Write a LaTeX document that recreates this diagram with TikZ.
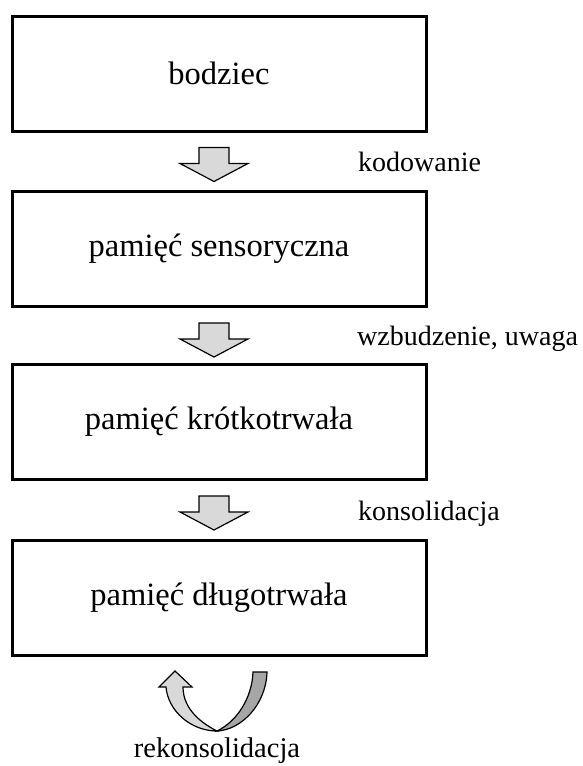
\documentclass[tikz,border=0pt]{standalone}
\usepackage{fontspec}
\setmainfont{Liberation Serif}
\usetikzlibrary{calc}
\definecolor{arrowlight}{HTML}{D9D9D9}
\definecolor{arrowdark}{HTML}{A6A6A6}
\tikzset{
  stagebox/.style={draw=black, line width=3pt, fill=white, minimum width=414pt, minimum height=115pt, inner sep=0pt, font=\fontsize{32.5}{38}\selectfont},
  steplabel/.style={anchor=base west, inner sep=0pt, font=\fontsize{28}{33}\selectfont},
  blockarrow/.style={draw=black, line width=1.2pt, fill=arrowlight, line join=miter},
  turnlight/.style={draw=black, line width=1.2pt, fill=arrowlight},
  turndark/.style={draw=black, line width=1.2pt, fill=arrowdark}
}
\begin{document}
\begin{tikzpicture}[x=1pt,y=-1pt]
\useasboundingbox (0,0) rectangle (582,766);
\node[stagebox] (b1) at (219,73.5) {bodziec};
\node[stagebox] (b2) at (219,249) {pamięć sensoryczna};
\node[stagebox] (b3) at (219,422) {pamięć krótkotrwała};
\node[stagebox] (b4) at (219,598) {pamięć długotrwała};
% block arrows between boxes
\foreach \a/\b in {b1/b2, b2/b3, b3/b4}{
  \coordinate (top) at ($(\a.south)+(-5,15)$);
  \draw[blockarrow] ($(top)+(-15,0)$) -- ($(top)+(15,0)$) -- ($(top)+(15,16)$) -- ($(top)+(34,16)$)
    -- ($(top)+(0,34)$) -- ($(top)+(-34,16)$) -- ($(top)+(-15,16)$) -- cycle;
}
\node[steplabel] (l1) at (358,171) {kodowanie};
\node[steplabel] (l2) at (357,345) {wzbudzenie, uwaga};
\node[steplabel] (l3) at (358,520) {konsolidacja};
% U-turn arrow
\coordinate (B) at (217,731);
\draw[turndark] (B) .. controls (241,730) and (266,705) .. (267,672) -- (253,672)
   .. controls (252,699) and (236,722) .. (B) -- cycle;
\draw[turnlight] (166,687) .. controls (168,711) and (191,731) .. (B)
   .. controls (203,724) and (183,710) .. (183,687) -- (192,687) -- (175,671) -- (159,687) -- cycle;
\node[anchor=base, inner sep=0pt, font=\fontsize{28.5}{33}\selectfont] (l4) at (217,757) {rekonsolidacja};
\end{tikzpicture}
\end{document}
